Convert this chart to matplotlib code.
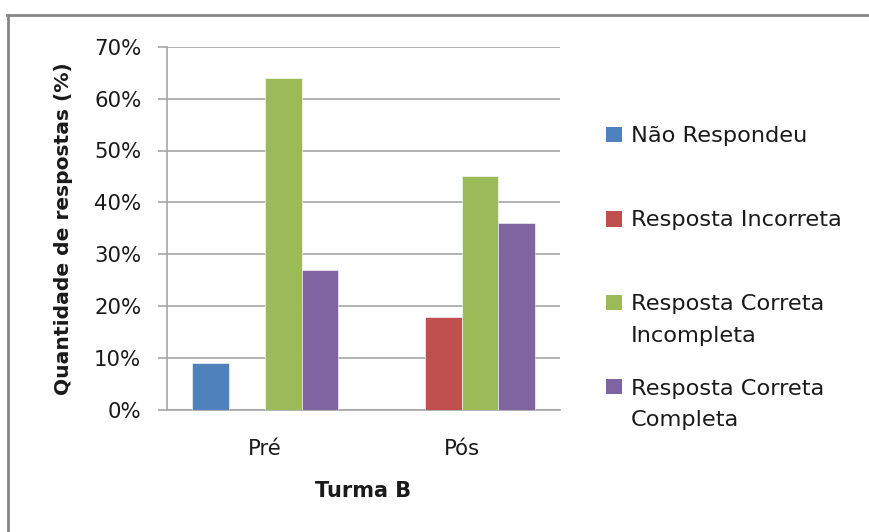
import matplotlib
matplotlib.use("Agg")
import matplotlib.pyplot as plt
from matplotlib.patches import Rectangle
from matplotlib.lines import Line2D
from matplotlib.ticker import PercentFormatter

plt.rcParams['font.family'] = ['DejaVu Sans']

categories = ["Pré", "Pós"]
series_names = [["Não Respondeu"], ["Resposta Incorreta"],
                ["Resposta Correta", "Incompleta"], ["Resposta Correta", "Completa"]]
nao_respondeu = [9, 0]
resposta_incorreta = [0, 18]
correta_incompleta = [64, 45]
correta_completa = [27, 36]
yticks = [0, 10, 20, 30, 40, 50, 60, 70]

colors = ["#4F81BD", "#C0504D", "#9BBB59", "#8064A2"]
series = [nao_respondeu, resposta_incorreta, correta_incompleta, correta_completa]
text_color = "#1a1a1a"
grid_color = "#A6A6A6"

W, H = 870, 532
fig = plt.figure(figsize=(W / 100, H / 100), dpi=100)
ax = fig.add_axes([167 / W, 1 - 410 / H, (560 - 167) / W, (410 - 46.7) / H])

bar_w = 0.186
x = list(range(len(categories)))
for i, (vals, col) in enumerate(zip(series, colors)):
    off = (i - 1.5) * bar_w
    ax.bar([xi + off for xi in x], vals, width=bar_w, color=col,
           edgecolor="white", linewidth=0.4, zorder=3)

ax.set_xlim(-0.5, 1.5)
ax.set_ylim(0, 70)
ax.set_yticks(yticks)
ax.yaxis.set_major_formatter(PercentFormatter(decimals=0))
ax.set_xticks(x)
ax.set_xticklabels(categories)
ax.grid(axis="y", color=grid_color, linewidth=1.2, zorder=0)
ax.set_axisbelow(True)
for s in ["top", "right"]:
    ax.spines[s].set_visible(False)
for s in ["left", "bottom"]:
    ax.spines[s].set_color(grid_color)
    ax.spines[s].set_linewidth(1.2)
ax.tick_params(axis="y", length=6.5, width=1.2, color=grid_color,
               labelsize=15.3, labelcolor=text_color, pad=12)
ax.tick_params(axis="x", length=0, labelsize=15.3, labelcolor=text_color, pad=21)

ax.set_ylabel("Quantidade de respostas (%)", fontsize=14.6, fontweight="bold",
              color=text_color, labelpad=15)
ax.set_xlabel("Turma B", fontsize=15, fontweight="bold", color=text_color,
              labelpad=16)

# legend drawn by hand, one entry per series: (square top, line baselines)
legend_rows = [(127, [142.5]), (211.5, [226]), (295, [310.5, 341.5]), (379, [395, 426.5])]
for lines, col, (sq_top, baselines) in zip(series_names, colors, legend_rows):
    fig.add_artist(Rectangle((606 / W, 1 - (sq_top + 15) / H), 16 / W, 15 / H,
                             transform=fig.transFigure, facecolor=col,
                             edgecolor="none"))
    for line, base in zip(lines, baselines):
        fig.text(631 / W, 1 - base / H, line, fontsize=16.2, color=text_color,
                 va="baseline", ha="left")

# chart frame
fig.add_artist(Line2D([7.5 / W, 1], [1 - 15 / H, 1 - 15 / H],
                      transform=fig.transFigure, color="#868686", linewidth=2))
fig.add_artist(Line2D([8 / W, 8 / W], [0, 1 - 15 / H],
                      transform=fig.transFigure, color="#868686", linewidth=2))

fig.savefig("out.png", dpi=100)
